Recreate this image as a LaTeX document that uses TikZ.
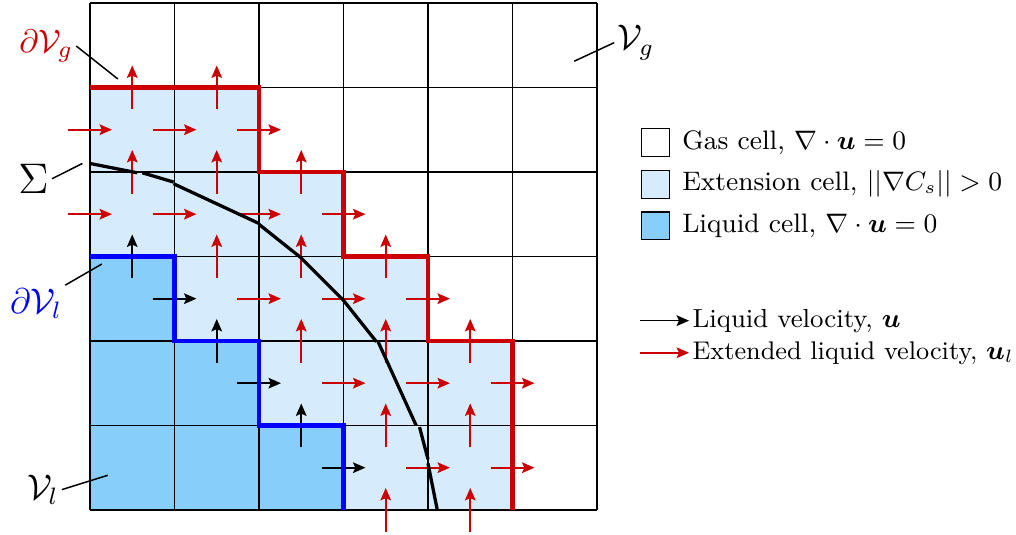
\documentclass[tikz,border=0pt]{standalone}
\usepackage{amsmath}
\usepackage{tikz}
\usetikzlibrary{arrows.meta}
\definecolor{extc}{RGB}{214,236,252}
\definecolor{liqc}{RGB}{135,206,250}
\definecolor{bred}{RGB}{204,0,0}

\begin{document}
\begin{tikzpicture}[x=1cm,y=1cm,
  vel/.style={-{Stealth[length=4.2pt,width=3.6pt,inset=0.8pt]},line width=0.55pt},
  velx/.style={vel,bred},
  gbound/.style={bred,line width=1.6pt},
  lbound/.style={blue,line width=1.6pt},
  iface/.style={black,line width=1.1pt},
  lbl/.style={inner sep=1pt},
  lead/.style={line width=0.5pt},
  key/.style={draw,line width=0.4pt,minimum size=0.33cm,inner sep=0pt},
  keytxt/.style={anchor=west,inner sep=4pt,font=\fontsize{9}{11}\selectfont}]
\useasboundingbox (-1.065,-0.296) rectangle (10.959,6.035);
% cells
\foreach \i/\j in {0/4,1/4,0/3,1/3,2/3,1/2,2/2,3/2,2/1,3/1,4/1,3/0,4/0}
   \fill[extc] (\i,\j) rectangle +(1,1);
\foreach \i/\j in {0/2,0/1,1/1,0/0,1/0,2/0}
   \fill[liqc] (\i,\j) rectangle +(1,1);
\draw[line width=0.4pt] (0,0) grid (6,6);
% face velocities
\foreach \x/\y in {0/4,1/4,2/4,0/3,1/3,2/3,3/3,2/2,3/2,4/2,3/1,4/1,5/1,4/0,5/0}
   \draw[velx] (\x-0.26,\y+0.5) -- (\x+0.26,\y+0.5);
\foreach \x/\y in {1/2,2/1,3/0}
   \draw[vel] (\x-0.26,\y+0.5) -- (\x+0.26,\y+0.5);
\foreach \x/\y in {0/5,1/5,0/4,1/4,2/4,1/3,2/3,3/3,2/2,3/2,4/2,3/1,4/1,3/0,4/0}
   \draw[velx] (\x+0.5,\y-0.26) -- (\x+0.5,\y+0.26);
\foreach \x/\y in {0/3,1/2,2/1}
   \draw[vel] (\x+0.5,\y-0.26) -- (\x+0.5,\y+0.26);
% boundaries
\draw[gbound] (0,5) -| (2,4) -| (3,3) -| (4,2) -| (5,0);
\draw[lbound] (0,3) -| (1,2) -| (2,1) -| (3,0);
% interface
\draw[iface] (0,4.10) -- (0.56,3.99) (0.62,3.99) -- (0.99,3.88)
   (0.99,3.86) -- (2.0,3.39) (2.0,3.38) -- (2.49,2.99) -- (3.0,2.48) -- (3.39,1.99)
   (3.41,1.99) -- (3.86,1.0) (3.90,0.98) -- (4.0,0.60) (4.0,0.55) -- (4.11,0);
% labels
\node[lbl,bred,font=\fontsize{11}{13}\selectfont] (dVg) at (-0.52,5.49) {$\partial\mathcal{V}_g$};
\coordinate (dVgtip) at (0.33,5.10);
\draw[lead] (dVg.east) -- (dVgtip);
\node[lbl,font=\Large] (Sig) at (-0.67,3.92) {$\Sigma$};
\coordinate (Sigtip) at (-0.09,4.10);
\draw[lead] (Sig.east) -- (Sigtip);
\node[lbl,blue,font=\fontsize{11.5}{13}\selectfont] (dVl) at (-0.64,2.44) {$\partial\mathcal{V}_l$};
\coordinate (dVltip) at (0.14,2.91);
\draw[lead] (dVl.north east) -- (dVltip);
\node[lbl,font=\large] (Vl) at (-0.56,0.24) {$\mathcal{V}_l$};
\coordinate (Vltip) at (0.21,0.41);
\draw[lead] (Vl.east) -- (Vltip);
\node[lbl,font=\large] (Vg) at (6.46,5.53) {$\mathcal{V}_g$};
\coordinate (Vgtip) at (5.73,5.31);
\draw[lead] (Vgtip) -- (Vg.west);
% legend
\foreach \c/\t [count=\k] in {white/{Gas cell, $\nabla\cdot\boldsymbol{u}=0$},
   extc/{Extension cell, $||\nabla C_s||>0$},
   liqc/{Liquid cell, $\nabla\cdot\boldsymbol{u}=0$}} {
   \node[key,fill=\c] (key\k) at (6.69,4.84-0.493*\k) {};
   \node[keytxt] (keytxt\k) at (key\k.east) {\t};
}
\coordinate (larr1) at (6.51,2.24);
\node[keytxt,inner sep=1pt,font=\fontsize{8.8}{11}\selectfont] (ltxt1) at (7.09,2.24) {Liquid velocity, $\boldsymbol{u}$};
\draw[vel] (larr1) -- (ltxt1.west);
\coordinate (larr2) at (6.51,1.86);
\node[keytxt,inner sep=1pt,font=\fontsize{8.6}{11}\selectfont] (ltxt2) at (7.09,1.86) {Extended liquid velocity, $\boldsymbol{u}_l$};
\draw[velx] (larr2) -- (ltxt2.west);
\end{tikzpicture}
\end{document}
